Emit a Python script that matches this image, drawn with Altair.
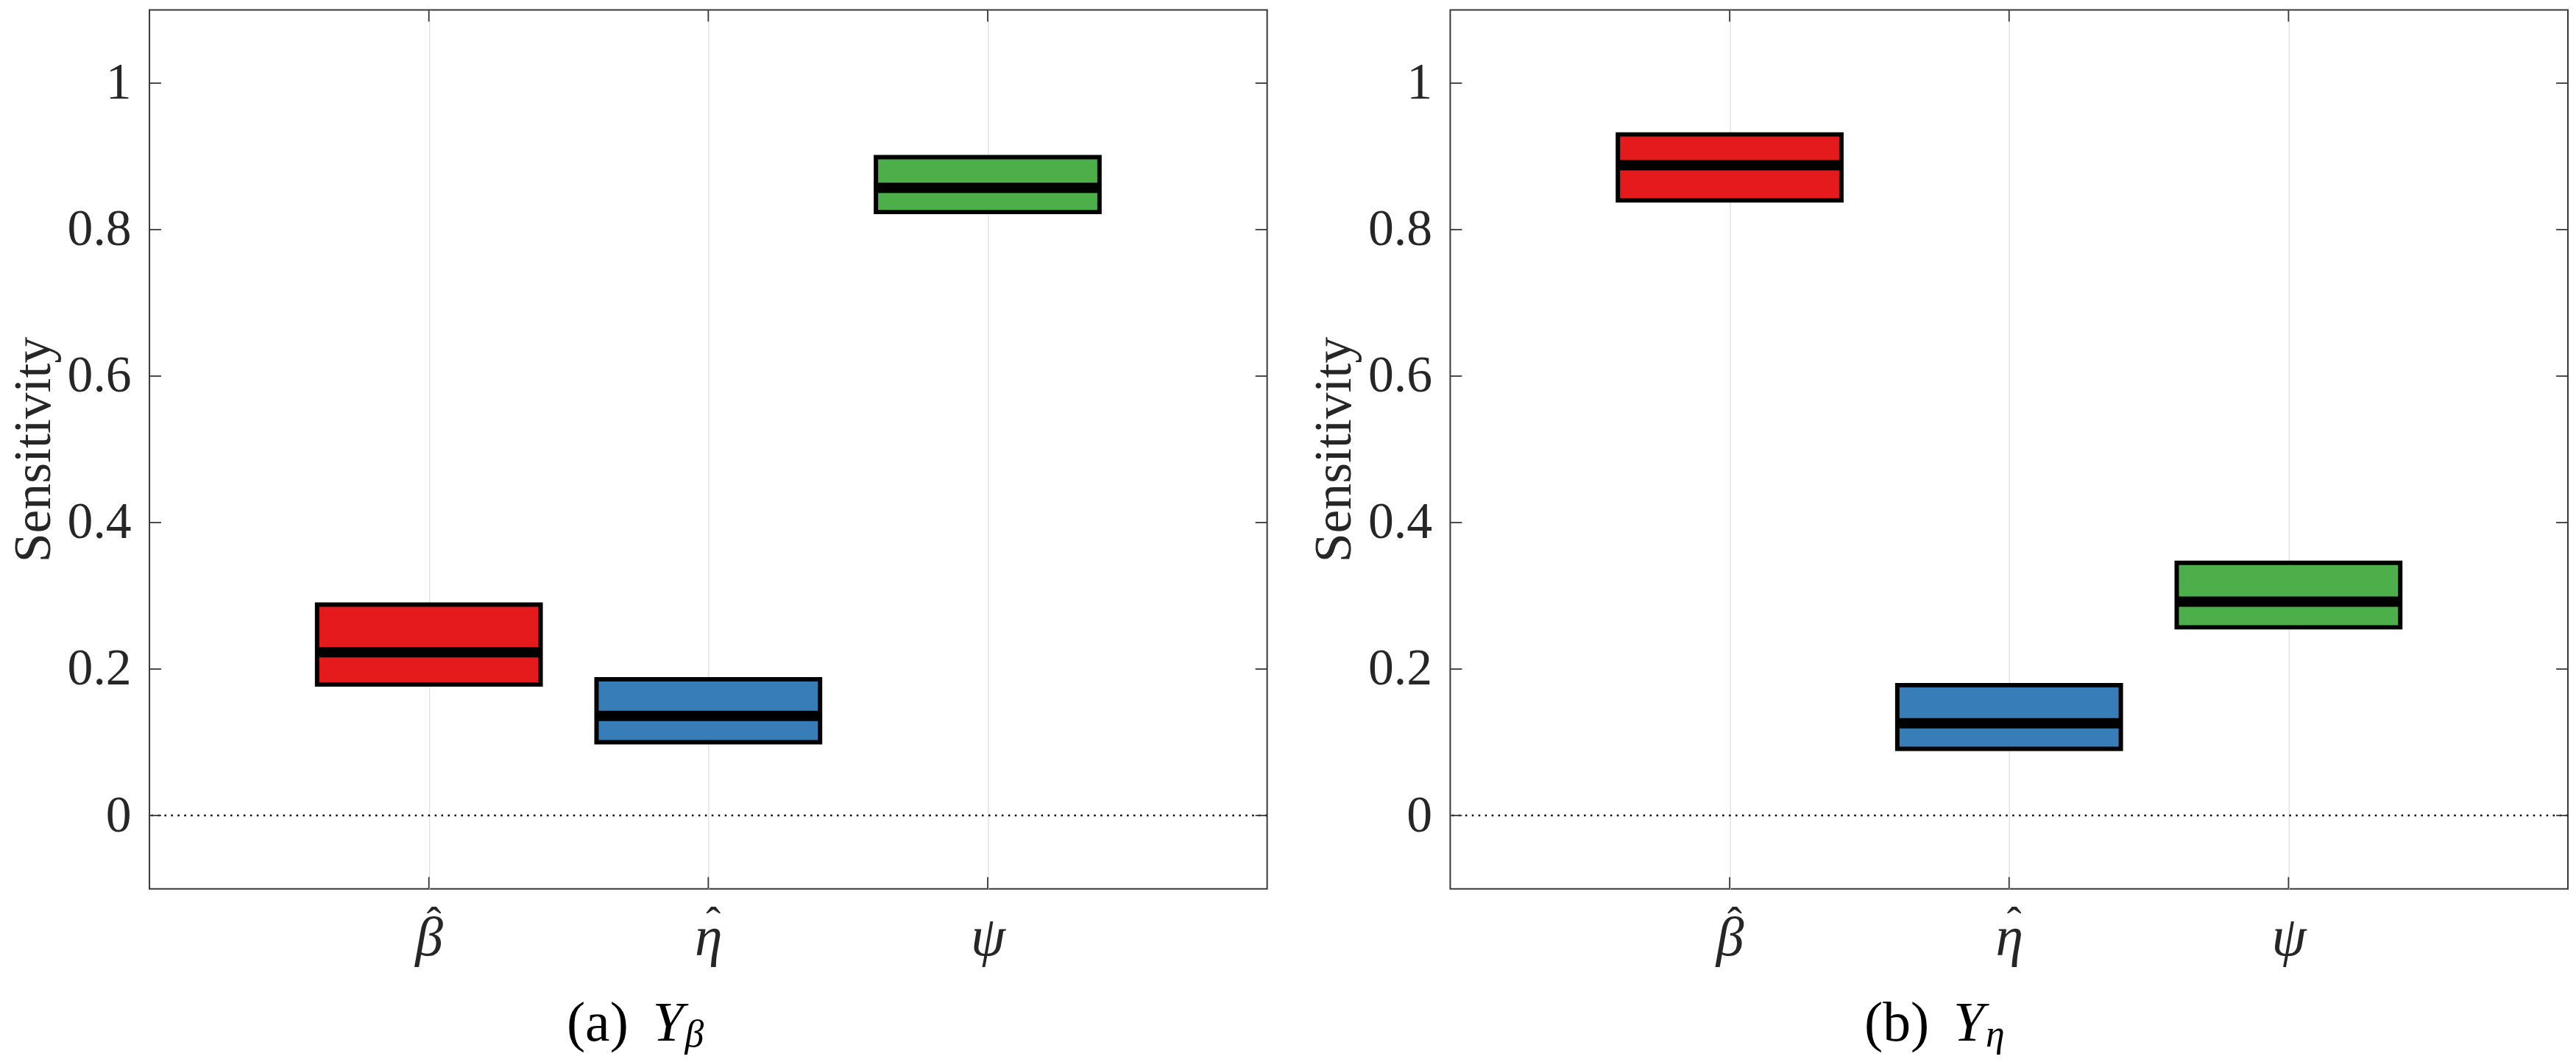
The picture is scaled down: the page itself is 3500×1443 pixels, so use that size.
import json
import altair as alt
import pandas as pd

# ---- data ----
params = ["\u03b2", "\u03b7", "\u03c8"]        # β, η, ψ
param_hats = ["\u02c6", "\u02c6", ""]          # hats over β and η (β̂, η̂)
positions = [1, 2, 3]
colors = ["#E41A1C", "#377EB8", "#4DAF4A"]

a_lo = [0.179, 0.100, 0.824]
a_med = [0.223, 0.136, 0.857]
a_hi = [0.288, 0.186, 0.899]

b_lo = [0.840, 0.091, 0.257]
b_med = [0.888, 0.126, 0.292]
b_hi = [0.930, 0.178, 0.345]

y_ticks = [0, 0.2, 0.4, 0.6, 0.8, 1]
y_tick_labels = ["0", "0.2", "0.4", "0.6", "0.8", "1"]

captions = ["(a)", "(b)"]
caption_subs = ["\u03b2", "\u03b7"]

# ---- layout / style ----
W, H = 1526, 1200
HALF = 0.4
FONT = "Liberation Serif"
TXT = "#262626"
FRAME = "#383838"
TICK = 16

xs = alt.Scale(domain=[0, 4], nice=False, zero=False)
ys = alt.Scale(domain=[-0.1, 1.1], nice=False, zero=False)

x_label_expr = f"{json.dumps(params, ensure_ascii=False)}[datum.value - 1]"
y_label_expr = f"{json.dumps(y_tick_labels)}[round(datum.value * 5)]"

x_axis = alt.Axis(
    values=positions, labelExpr=x_label_expr, grid=True,
    gridColor="#e3e3e3", gridWidth=1.5, ticks=False, tickSize=0,
    domain=False, title="", labelPadding=30, labelFontSize=76,
    labelFontStyle="italic", labelFont=FONT, labelColor=TXT)
y_axis = alt.Axis(
    values=y_ticks, labelExpr=y_label_expr, grid=False, ticks=False,
    tickSize=0, domain=False, title="Sensitivity", labelPadding=25,
    labelFontSize=70, labelFont=FONT, labelColor=TXT,
    titleFont=FONT, titleFontSize=72, titleFontWeight="normal",
    titleColor=TXT, titlePadding=9)


def X(field):
    return alt.X(field, scale=xs, axis=x_axis)


def Y(field):
    return alt.Y(field, scale=ys, axis=y_axis)


def panel(lo, med, hi, letter, sub):
    df = pd.DataFrame({"param": params, "pos": positions, "lo": lo,
                       "med": med, "hi": hi, "color": colors})
    base = alt.Chart(df).transform_calculate(
        x0=f"datum.pos - {HALF}", x1=f"datum.pos + {HALF}")

    boxes = base.mark_rect(stroke="black", strokeWidth=6).encode(
        x=X("x0:Q"), x2="x1:Q", y=Y("lo:Q"), y2="hi:Q",
        fill=alt.Color("color:N", scale=None),
    )

    medians = base.mark_rule(color="black", strokeWidth=14, strokeCap="butt").encode(
        x=X("x0:Q"), x2="x1:Q", y=Y("med:Q"))

    zero = alt.Chart(pd.DataFrame({"z": [0]})).mark_rule(
        color="black", strokeDash=[2.5, 6.5], strokeWidth=2.5).encode(y=Y("z:Q"))

    yt = pd.DataFrame({"v": y_ticks})
    xt = pd.DataFrame({"p": positions, "hat": param_hats})
    tick_style = dict(color=FRAME, strokeWidth=1.8)
    left_t = alt.Chart(yt).mark_rule(**tick_style).encode(
        y=Y("v:Q"), x=alt.value(0), x2=alt.value(TICK))
    right_t = alt.Chart(yt).mark_rule(**tick_style).encode(
        y=Y("v:Q"), x=alt.value(W - TICK), x2=alt.value(W))
    top_t = alt.Chart(xt).mark_rule(**tick_style).encode(
        x=X("p:Q"), y=alt.value(0), y2=alt.value(TICK))
    bot_t = alt.Chart(xt).mark_rule(**tick_style).encode(
        x=X("p:Q"), y=alt.value(H - TICK), y2=alt.value(H))

    hats = alt.Chart(xt).mark_text(
        font=FONT, fontSize=60, color=TXT, baseline="alphabetic", dx=7).encode(
        x=X("p:Q"), y=alt.value(H + 66), text="hat:N")

    cx = (W - 188) / 2
    cy = H + 207
    cap1 = alt.Chart(pd.DataFrame({"t": [letter]})).mark_text(
        font=FONT, fontSize=76, color="black", align="right",
        baseline="alphabetic").encode(text="t:N", x=alt.value(cx - 15), y=alt.value(cy))
    cap2 = alt.Chart(pd.DataFrame({"t": ["Y"]})).mark_text(
        font=FONT, fontSize=76, fontStyle="italic", color="black", align="left",
        baseline="alphabetic").encode(text="t:N", x=alt.value(cx + 18), y=alt.value(cy))
    cap3 = alt.Chart(pd.DataFrame({"t": [sub]})).mark_text(
        font=FONT, fontSize=52, fontStyle="italic", color="black", align="left",
        baseline="alphabetic").encode(text="t:N", x=alt.value(cx + 62), y=alt.value(cy + 8))

    return alt.layer(boxes, medians, zero, left_t, right_t, top_t, bot_t, hats,
                     cap1, cap2, cap3).properties(width=W, height=H)


chart = alt.hconcat(
    panel(a_lo, a_med, a_hi, captions[0], caption_subs[0]),
    panel(b_lo, b_med, b_hi, captions[1], caption_subs[1]),
    spacing=51,
).properties(padding=0, background="white").configure_view(
    stroke=FRAME, strokeWidth=2)

chart.save("out.html", embed_options={"renderer": "svg", "actions": False})
